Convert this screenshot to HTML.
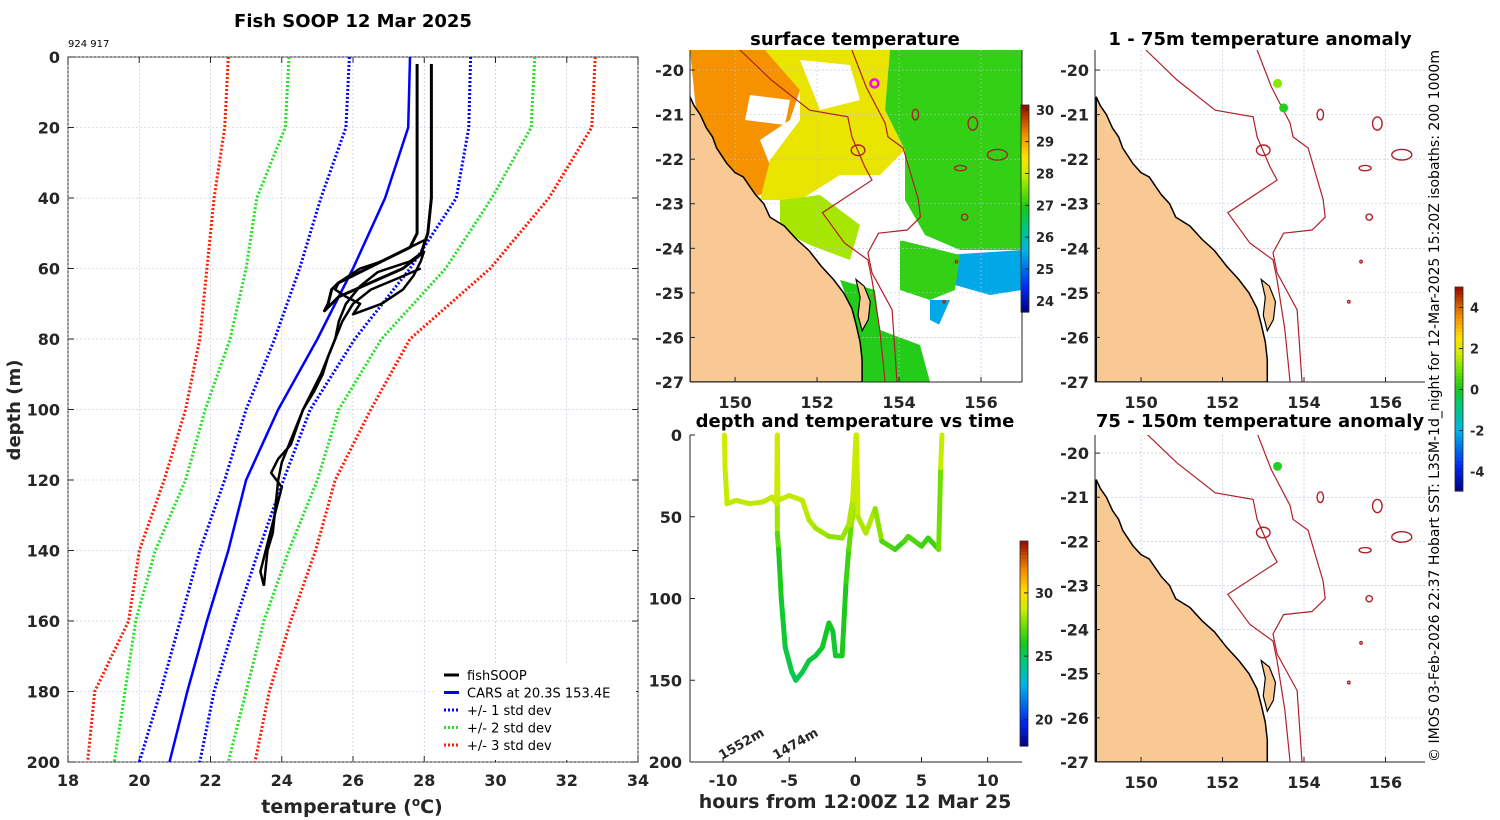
<!DOCTYPE html>
<html><head><meta charset="utf-8">
<style>
body{margin:0;background:#fff;}
svg{display:block;font-family:"DejaVu Sans","Liberation Sans",sans-serif;}
.t{font-size:13px;font-weight:bold;fill:#262626;}
.ti{font-size:18px;font-weight:bold;fill:#000;}
.lab{font-size:16px;font-weight:bold;fill:#262626;}
.leg{font-size:13px;fill:#000;}
</style></head>
<body>
<svg id="fig" width="1500" height="820" viewBox="0 0 1500 820" xmlns="http://www.w3.org/2000/svg">
<g id="g"></g>
</svg>
<script>
// ---- profile data (depth m, temperature C) ----
const stdDepths=[0,20,40,60,80,100,120,140,160,180,200];
const carsMean=[27.6,27.55,26.9,26.0,25.0,23.9,23.0,22.5,21.9,21.35,20.85];
const plus1=[29.3,29.25,28.9,27.6,26.05,24.8,24.05,23.35,22.7,22.1,21.7];
const minus1=[25.9,25.8,25.1,24.5,23.8,23.0,22.4,21.7,21.15,20.6,20.0];
const plus2=[31.1,31.0,29.9,28.6,26.8,25.6,25.0,24.2,23.5,23.0,22.5];
const minus2=[24.2,24.1,23.3,23.0,22.55,21.85,21.3,20.45,19.9,19.6,19.3];
const plus3=[32.8,32.7,31.5,29.85,27.6,26.5,25.5,24.95,24.25,23.65,23.25];
const minus3=[22.5,22.4,22.1,21.9,21.7,21.3,20.7,20.0,19.7,18.75,18.55];
const fishA_d=[2,50,54,58,62,64,66,70,72,68,64,60,56,50,40,2];
const fishA_t=[27.8,27.8,27.6,26.8,26.0,25.6,25.4,25.3,25.2,25.6,26.5,27.4,27.9,28.1,28.2,28.2];
const fishB_d=[52,55,58,60,62,64,66,68,70,73,70,66,62,58,55];
const fishB_t=[28.0,27.4,26.8,26.2,25.9,25.6,25.5,25.8,26.2,26.0,26.8,27.4,27.7,27.9,28.0];
const fishC_d=[55,58,61,65,70,75,80,85,90,95,100,105,110,115,120,125,130,135,140,145,150];
const fishC_t=[28.0,27.6,26.7,26.2,25.8,25.6,25.5,25.3,25.15,24.9,24.6,24.4,24.2,24.0,23.9,23.85,23.8,23.75,23.6,23.55,23.5];
const fishD_d=[60,63,66,70,75,80,90,100,110,114,118,122,128,134,140,146,150];
const fishD_t=[27.9,27.2,26.5,26.0,25.7,25.5,25.1,24.6,24.25,23.9,23.7,24.0,23.85,23.7,23.55,23.4,23.5];
// ---- depth vs time track (hours, depth, temp) ----
const trkH=[-9.9,-9.85,-9.7,-9,-8,-7,-6.3,-5.95,-5.9,-5.85,-5,-4,-3.5,-3,-2,-1,-0.5,-0.2,0.05,0.1,0.2,0.8,1.5,2,3,3.7,4,5,5.5,6.3,6.45,6.55];
const trkD=[0,20,42,40,42,41,38,42,0,40,37,40,52,57,62,63,55,40,0,0,50,60,45,65,70,65,62,68,63,70,20,0];
const trkT=[28.9,28.8,28.6,28.5,28.6,28.5,28.6,28.6,28.9,28.6,28.6,28.6,28.5,28.3,28.0,27.8,28.2,28.5,28.9,28.9,28.5,28.2,28.5,27.3,26.5,26.8,27.3,26.6,26.8,26.5,28.5,28.9];
const deepH=[-5.9,-5.9,-5.8,-5.6,-5.3,-4.8,-4.5,-4,-3.5,-3,-2.5,-2,-1.7,-1.5,-1,-0.7,-0.5,-0.3,0];
const deepD=[40,60,70,100,130,145,150,145,138,135,130,115,120,135,135,90,70,55,40];
const deepT=[28.5,27.8,26.4,25.9,25.6,25.3,25.2,25.3,25.5,25.6,25.8,26,25.9,25.6,25.8,26.5,26.8,27.8,28.5];
const tempTicks=[18,20,22,24,26,28,30,32,34];
const depthTicks=[0,20,40,60,80,100,120,140,160,180,200];
const hourTicks=[-10,-5,0,5,10];
const dtDepthTicks=[0,50,100,150,200];

const NS='http://www.w3.org/2000/svg';
const G=document.getElementById('g');
function el(tag,attrs,parent,text){const e=document.createElementNS(NS,tag);for(const k in attrs)e.setAttribute(k,attrs[k]);if(text!==undefined)e.textContent=text;(parent||G).appendChild(e);return e;}

// colormap
const stops=[[0,[0,0,130]],[0.12,[0,40,240]],[0.3,[0,180,230]],[0.42,[0,200,120]],[0.5,[20,200,30]],[0.6,[120,225,0]],[0.67,[205,235,0]],[0.75,[255,225,0]],[0.86,[245,140,0]],[1,[150,10,0]]];
function cmap(f){f=Math.max(0,Math.min(1,f));for(let i=1;i<stops.length;i++){if(f<=stops[i][0]){const a=stops[i-1],b=stops[i];const u=(f-a[0])/(b[0]-a[0]);const c=a[1].map((v,j)=>Math.round(v+(b[1][j]-v)*u));return `rgb(${c[0]},${c[1]},${c[2]})`;}}return 'rgb(150,10,0)';}

// ========== main profile panel ==========
const P={x0:68,x1:638,y0:57,y1:762};
const tx=t=>P.x0+(t-18)/(34-18)*(P.x1-P.x0);
const dy=d=>P.y0+d/200*(P.y1-P.y0);
const mp=el('g',{},G);
el('rect',{x:P.x0,y:P.y0,width:P.x1-P.x0,height:P.y1-P.y0,fill:'#fff',stroke:'#262626','stroke-width':1},mp);
tempTicks.forEach(t=>{const x=tx(t);el('line',{x1:x,y1:P.y0,x2:x,y2:P.y1,stroke:'#b8c0d8','stroke-width':0.6,'stroke-dasharray':'2,2'},mp);
 el('line',{x1:x,y1:P.y1,x2:x,y2:P.y1-6,stroke:'#262626'},mp);el('line',{x1:x,y1:P.y0,x2:x,y2:P.y0+6,stroke:'#262626'},mp);
 const l=el('text',{x:x,y:P.y1+24,'text-anchor':'middle',class:'lab'},mp,String(t));});
depthTicks.forEach(d=>{const y=dy(d);el('line',{x1:P.x0,y1:y,x2:P.x1,y2:y,stroke:'#b8c0d8','stroke-width':0.6,'stroke-dasharray':'2,2'},mp);
 el('line',{x1:P.x0,y1:y,x2:P.x0+6,y2:y,stroke:'#262626'},mp);el('line',{x1:P.x1,y1:y,x2:P.x1-6,y2:y,stroke:'#262626'},mp);
 const l=el('text',{x:P.x0-8,y:y+6,'text-anchor':'end',class:'lab'},mp,String(d));});
function prof(ds,ts,color,w,dash,name){const pts=ds.map((d,i)=>tx(ts[i]).toFixed(1)+','+dy(d).toFixed(1)).join(' ');const p=el('polyline',{points:pts,fill:'none',stroke:color,'stroke-width':w,'stroke-dasharray':dash||'none','stroke-linejoin':'round'},mp);}
prof(stdDepths,plus3,'#ff1a00',3,'2,2','plus-3-std-line');prof(stdDepths,minus3,'#ff1a00',3,'2,2','minus-3-std-line');
prof(stdDepths,plus2,'#22e022',3,'2,2','plus-2-std-line');prof(stdDepths,minus2,'#22e022',3,'2,2','minus-2-std-line');
prof(stdDepths,plus1,'#0000ff',3,'2,2','plus-1-std-line');prof(stdDepths,minus1,'#0000ff',3,'2,2','minus-1-std-line');
prof(stdDepths,carsMean,'#0000ff',2.5,null,'cars-mean-line');
prof(fishA_d,fishA_t,'#000',3,null,'fishsoop-profile-a');prof(fishB_d,fishB_t,'#000',2.5,null,'fishsoop-profile-b');
prof(fishC_d,fishC_t,'#000',2.5,null,'fishsoop-profile-c');prof(fishD_d,fishD_t,'#000',2.5,null,'fishsoop-profile-d');
let e;
e=el('text',{x:353,y:27,'text-anchor':'middle',class:'ti'},G,'Fish SOOP 12 Mar 2025');
e=el('text',{x:68,y:47,'font-size':'10',fill:'#000'},G,'924 917');
e=el('text',{x:352,y:813,'text-anchor':'middle',class:'lab',style:'font-size:19px'},G);
e.innerHTML='temperature (<tspan dy="-7" style="font-size:12px">o</tspan><tspan dy="7">C)</tspan>';
e=el('text',{x:0,y:0,transform:'translate(20,410) rotate(-90)','text-anchor':'middle',class:'lab',style:'font-size:18px'},G,'depth (m)');
// legend
const lg=el('g',{},G);
el('rect',{x:436,y:664,width:200,height:96,fill:'#fff'},lg);
[['fishSOOP','#000',null],['CARS at 20.3S 153.4E','#0000ff',null],['+/- 1 std dev','#0000ff','2,2'],['+/- 2 std dev','#22e022','2,2'],['+/- 3 std dev','#ff1a00','2,2']].forEach((r,i)=>{const y=675+i*17.5;
 const s=el('line',{x1:444,y1:y,x2:459,y2:y,stroke:r[1],'stroke-width':3,'stroke-dasharray':r[2]||'none'},lg);
 const t=el('text',{x:467,y:y+5,class:'leg'},lg,r[0]);});

// ========== maps ==========
const coast=[[148.9,-20.6],[149.0,-20.8],[149.15,-21.0],[149.3,-21.3],[149.45,-21.5],[149.55,-21.75],[149.8,-22.1],[150.0,-22.3],[150.2,-22.4],[150.35,-22.6],[150.5,-22.8],[150.7,-23.0],[150.85,-23.3],[151.2,-23.5],[151.5,-23.8],[151.8,-24.05],[152.1,-24.4],[152.4,-24.7],[152.65,-25.0],[152.85,-25.35],[152.95,-25.7],[153.05,-26.1],[153.1,-26.5],[153.1,-27.0],[148.9,-27.0]];
const fraser=[[152.95,-24.7],[153.15,-24.85],[153.3,-25.2],[153.25,-25.6],[153.1,-25.85],[153.0,-25.5],[153.05,-25.1]];
const iso200=[[150.12,-19.55],[150.88,-20.22],[151.82,-20.9],[152.75,-21.05],[152.85,-21.5],[153.17,-22.18],[153.34,-22.47],[152.13,-23.2],[152.67,-23.88],[153.24,-24.26],[153.34,-24.71],[153.53,-25.83],[153.66,-27.0]];
const iso1000=[[152.85,-19.55],[153.2,-20.38],[153.66,-21.19],[153.73,-21.5],[154.1,-21.75],[154.47,-22.9],[154.52,-23.3],[154.2,-23.59],[153.5,-23.66],[153.24,-24.1],[153.34,-24.55],[153.83,-25.38],[153.95,-27.0]];
const eddies=[[154.4,-21.0,0.08,0.12],[155.8,-21.2,0.12,0.15],[156.4,-21.9,0.25,0.12],[155.5,-22.2,0.15,0.06],[155.6,-23.3,0.08,0.07],[155.4,-24.3,0.03,0.03],[155.1,-25.2,0.03,0.03],[153.0,-21.8,0.17,0.12]];
const lonTicks=[150,152,154,156];
const latTicks=[-20,-21,-22,-23,-24,-25,-26,-27];

function mapPanel(M,name,withSST){
 const g=el('g',{},G);
 const X=lo=>M.x0+(lo-M.lo0)/(M.lo1-M.lo0)*(M.x1-M.x0);
 const Y=la=>M.y0+(M.la0-la)/(M.la0-M.la1)*(M.y1-M.y0);
 const cid='clip'+name;const cp=el('clipPath',{id:cid},g);el('rect',{x:M.x0,y:M.y0,width:M.x1-M.x0,height:M.y1-M.y0},cp);
 const inner=el('g',{'clip-path':'url(#'+cid+')'},g);
 el('rect',{x:M.x0,y:M.y0,width:M.x1-M.x0,height:M.y1-M.y0,fill:'#fff'},inner);
 if(withSST){withSST(inner,X,Y);}
 lonTicks.forEach(l=>el('line',{x1:X(l),y1:M.y0,x2:X(l),y2:M.y1,stroke:'#b8c0d8','stroke-width':0.6,'stroke-dasharray':'2,2'},inner));
 latTicks.forEach(l=>el('line',{x1:M.x0,y1:Y(l),x2:M.x1,y2:Y(l),stroke:'#b8c0d8','stroke-width':0.6,'stroke-dasharray':'2,2'},inner));
 const poly=a=>a.map(p=>X(p[0]).toFixed(1)+','+Y(p[1]).toFixed(1)).join(' ');
 let c=el('polygon',{points:poly(coast),fill:'#f9c994',stroke:'#000','stroke-width':1.5},inner);
 el('polygon',{points:poly(fraser),fill:'#f9c994',stroke:'#000','stroke-width':1.2},inner);
 c=el('polyline',{points:poly(iso200),fill:'none',stroke:'#b0202a','stroke-width':1.2},inner);
 c=el('polyline',{points:poly(iso1000),fill:'none',stroke:'#b0202a','stroke-width':1.2},inner);
 eddies.forEach(q=>el('ellipse',{cx:X(q[0]),cy:Y(q[1]),rx:q[2]*40,ry:q[3]*44,fill:'none',stroke:'#b0202a','stroke-width':1.4},inner));
 el('line',{x1:M.x0,y1:M.y0,x2:M.x0,y2:M.y1,stroke:'#262626'},g);
 el('line',{x1:M.x0,y1:M.y1,x2:M.x1,y2:M.y1,stroke:'#262626'},g);
 if(M.box){el('line',{x1:M.x1,y1:M.y0,x2:M.x1,y2:M.y1,stroke:'#262626'},g);}
 lonTicks.forEach(l=>{el('line',{x1:X(l),y1:M.y1,x2:X(l),y2:M.y1-5,stroke:'#262626'},g);
  const t=el('text',{x:X(l),y:M.y1+26,'text-anchor':'middle',class:'lab'},g,String(l));});
 latTicks.forEach(l=>{el('line',{x1:M.x0,y1:Y(l),x2:M.x0+5,y2:Y(l),stroke:'#262626'},g);
  const t=el('text',{x:M.x0-6,y:Y(l)+6,'text-anchor':'end',class:'lab'},g,String(l));});
 return {X,Y,g};
}
// SST patches (pixel polygons relative to map1 image, value = temperature)
const sstPatchTemps=[29.2,28.3,27.1,25.5,27.1,25.5,27.8,27.0];
const sstPatchShapes=[
 [[690,50],[765,50],[800,90],[790,120],[760,140],[780,190],[740,200],[700,150]],
 [[765,50],[890,50],[885,110],[905,150],[880,175],[840,175],[800,200],[760,200],[770,160],[800,120],[800,90]],
 [[890,50],[1022,50],[1022,250],[960,250],[925,235],[905,200],[905,150],[885,110]],
 [[945,255],[1022,250],[1022,290],[990,295],[955,285]],
 [[900,240],[960,255],[955,290],[930,300],[900,290]],
 [[930,300],[990,300],[995,330],[960,335],[930,320]],
 [[780,200],[820,195],[860,225],[850,260],[810,245],[780,230]],
 [[840,280],[875,290],[880,330],[920,345],[930,382],[862,382],[855,320]]];
const sstHoles=[[[800,60],[850,65],[860,100],[820,110]],[[860,180],[900,185],[905,240],[865,250],[860,220]],[[950,300],[1022,300],[1022,382],[930,382],[930,345]],[[750,95],[790,100],[785,125],[745,120]]];

const M1={x0:690,x1:1022,y0:50,y1:382,lo0:148.9,lo1:157.0,la0:-19.55,la1:-27.0,box:true};
const sstF=t=>(t-23.65)/(30.15-23.65);
const m1=mapPanel(M1,'surface-temperature-map',(inner,X,Y)=>{
 sstPatchShapes.forEach((s,i)=>{const p=el('polygon',{points:s.map(q=>q.join(',')).join(' '),fill:cmap(sstF(sstPatchTemps[i]))},inner);});
 sstHoles.forEach(s=>el('polygon',{points:s.map(q=>q.join(',')).join(' '),fill:'#fff'},inner));
});
e=el('circle',{cx:m1.X(153.4),cy:m1.Y(-20.3),r:4,fill:'none',stroke:'#ff00ff','stroke-width':2.5},m1.g);
e=el('text',{x:855,y:45,'text-anchor':'middle',class:'ti'},G,'surface temperature');

const M2={x0:1095,x1:1425,y0:50,y1:382,lo0:148.87,lo1:156.97,la0:-19.55,la1:-27.0};
const m2=mapPanel(M2,'anomaly-1-75m-map');
[[153.35,-20.3,'#88e800'],[153.5,-20.85,'#22d022']].forEach(p=>{const c=el('circle',{cx:m2.X(p[0]),cy:m2.Y(p[1]),r:4.5,fill:p[2]},m2.g);});
e=el('text',{x:1260,y:45,'text-anchor':'middle',class:'ti'},G,'1 - 75m temperature anomaly');
const M3={x0:1095,x1:1425,y0:435,y1:762,lo0:148.87,lo1:156.97,la0:-19.59,la1:-27.0};
const m3=mapPanel(M3,'anomaly-75-150m-map');
e=el('circle',{cx:m3.X(153.35),cy:m3.Y(-20.3),r:4.5,fill:'#22d022'},m3.g);
e=el('text',{x:1260,y:427,'text-anchor':'middle',class:'ti'},G,'75 - 150m temperature anomaly');

// colorbars
function colorbar(x,y0,y1,vmin,vmax,ticks,name){const g=el('g',{},G);
 const n=60;for(let i=0;i<n;i++){const f=(i+0.5)/n;el('rect',{x:x,y:y1-(i+1)/n*(y1-y0),width:8,height:(y1-y0)/n+0.6,fill:cmap(f)},g);}
 el('rect',{x:x,y:y0,width:8,height:y1-y0,fill:'none',stroke:'#262626','stroke-width':0.8},g);
 ticks.forEach(t=>{const y=y1-(t-vmin)/(vmax-vmin)*(y1-y0);el('line',{x1:x+8,y1:y,x2:x+4,y2:y,stroke:'#262626'},g);
  const l=el('text',{x:x+15,y:y+5,class:'t'},g,String(t));});}
colorbar(1021,105,312,23.65,30.15,[24,25,26,27,28,29,30],'sst-colorbar');
colorbar(1455,287,491,-4.95,5.0,[-4,-2,0,2,4],'anomaly-colorbar');
colorbar(1020,541,746,17.9,34.1,[20,25,30],'track-colorbar');

// ========== depth vs time panel ==========
const D={x0:690,x1:1022,y0:435,y1:762};
const hx=h=>D.x0+(h+12.5)/(25.1)*(D.x1-D.x0);
const ddy=d=>D.y0+d/200*(D.y1-D.y0);
const dg=el('g',{},G);
el('line',{x1:D.x0,y1:D.y0,x2:D.x0,y2:D.y1,stroke:'#262626'},dg);
el('line',{x1:D.x0,y1:D.y1,x2:D.x1,y2:D.y1,stroke:'#262626'},dg);
hourTicks.forEach(h=>{el('line',{x1:hx(h),y1:D.y1,x2:hx(h),y2:D.y1-5,stroke:'#262626'},dg);
 const l=el('text',{x:hx(h),y:D.y1+24,'text-anchor':'middle',class:'lab'},dg,String(h));});
dtDepthTicks.forEach(d=>{el('line',{x1:D.x0,y1:ddy(d),x2:D.x0+5,y2:ddy(d),stroke:'#262626'},dg);
 const l=el('text',{x:D.x0-8,y:ddy(d)+6,'text-anchor':'end',class:'lab'},dg,String(d));});
const trF=t=>(t-17.9)/(34.1-17.9);
function track(H,Dd,T,name){const g=el('g',{},dg);
 for(let i=1;i<H.length;i++){el('line',{x1:hx(H[i-1]),y1:ddy(Dd[i-1]),x2:hx(H[i]),y2:ddy(Dd[i]),stroke:cmap(trF((T[i-1]+T[i])/2)),'stroke-width':5,'stroke-linecap':'round'},g);}}
track(deepH,deepD,deepT,'deep-track');
track(trkH,trkD,trkT,'shallow-track');
e=el('text',{x:0,y:0,transform:'translate(722,760) rotate(-30)',class:'t','font-size':'12',fill:'#000'},dg,'1552m');
e=el('text',{x:0,y:0,transform:'translate(776,760) rotate(-30)',class:'t','font-size':'12',fill:'#000'},dg,'1474m');
e=el('text',{x:855,y:427,'text-anchor':'middle',class:'ti'},G,'depth and temperature vs time');
e=el('text',{x:855,y:808,'text-anchor':'middle',class:'lab',style:'font-size:19px'},G,'hours from 12:00Z 12 Mar 25');
e=el('text',{x:0,y:0,transform:'translate(1439,406) rotate(-90)','text-anchor':'middle','font-size':'14',fill:'#000',textLength:'712',lengthAdjust:'spacing'},G,'© IMOS 03-Feb-2026 22:37 Hobart SST: L3SM-1d_night for 12-Mar-2025 15:20Z isobaths: 200  1000m');
</script>
</body></html>
